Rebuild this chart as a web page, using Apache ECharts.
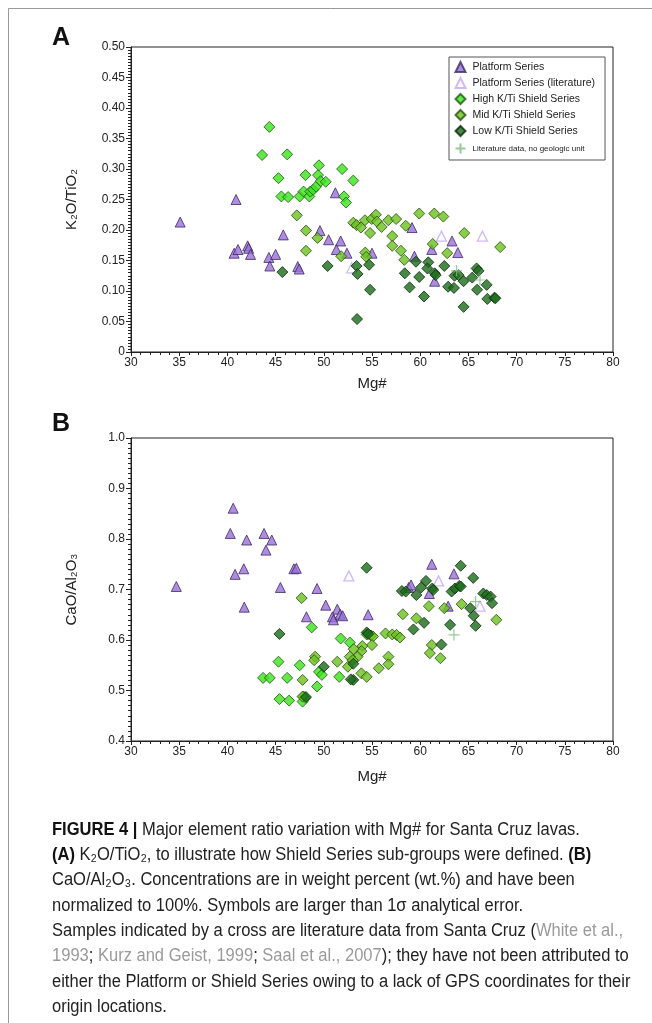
<!DOCTYPE html>
<html>
<head>
<meta charset="utf-8">
<script src="https://cdn.jsdelivr.net/npm/echarts@6/dist/echarts.min.js"></script>
<style>
  html, body { margin: 0; padding: 0; background: #fff; }
  #chart { width: 652px; height: 1023px; }
</style>
</head>
<body>
<div id="chart"></div>
<script>
// Mg# (x) against K2O/TiO2 (panel A) and CaO/Al2O3 (panel B), Santa Cruz lavas

const platformA = [[35.1,0.213],[40.9,0.250],[40.7,0.162],[41.1,0.168],[42.1,0.174],[42.2,0.170],[42.4,0.160],[44.3,0.155],[44.4,0.141],[45.0,0.160],[45.8,0.192],[47.3,0.140],[47.45,0.136],[49.6,0.199],[51.2,0.261],[50.5,0.184],[51.75,0.182],[51.3,0.168],[52.4,0.162],[55.0,0.162],[59.15,0.204],[61.2,0.168],[63.3,0.182],[63.9,0.163],[59.4,0.157],[61.5,0.116]];
const platformLitA = [[52.9,0.138],[62.2,0.190],[66.45,0.190]];
const highKTiA = [[43.6,0.323],[44.35,0.369],[45.3,0.285],[45.6,0.255],[46.2,0.324],[46.3,0.254],[47.5,0.255],[47.9,0.263],[48.1,0.290],[48.5,0.255],[48.6,0.263],[48.9,0.266],[49.2,0.271],[49.4,0.290],[49.5,0.306],[49.67,0.280],[50.2,0.279],[51.9,0.300],[52.1,0.255],[52.3,0.245],[53.06,0.281]];
const midKTiA = [[47.2,0.224],[48.15,0.199],[48.15,0.166],[49.35,0.187],[51.8,0.157],[53.06,0.212],[53.4,0.208],[53.85,0.204],[54.27,0.216],[54.97,0.218],[55.4,0.225],[55.5,0.214],[54.8,0.195],[56.0,0.205],[56.7,0.216],[57.5,0.218],[58.5,0.207],[59.9,0.227],[61.46,0.227],[62.4,0.222],[57.1,0.190],[57.1,0.174],[54.3,0.163],[54.4,0.156],[58.0,0.166],[58.35,0.151],[61.3,0.177],[62.8,0.162],[64.57,0.195],[68.3,0.172]];
const lowKTiA = [[45.7,0.131],[50.4,0.141],[53.4,0.141],[53.5,0.128],[54.7,0.143],[54.8,0.102],[53.45,0.054],[59.56,0.148],[60.84,0.147],[60.74,0.137],[58.4,0.129],[59.9,0.123],[58.9,0.106],[60.4,0.091],[61.5,0.129],[61.6,0.126],[62.5,0.141],[63.56,0.125],[63.98,0.126],[64.5,0.116],[62.9,0.107],[63.5,0.105],[65.4,0.122],[65.85,0.137],[66.05,0.133],[65.9,0.102],[66.9,0.110],[66.96,0.087],[67.7,0.089],[67.8,0.088],[64.5,0.074]];
const literatureA = [[63.77,0.133],[66.2,0.118]];

const platformB = [[34.7,0.706],[40.6,0.861],[40.3,0.811],[40.8,0.730],[41.7,0.741],[41.75,0.665],[42.0,0.798],[43.8,0.811],[44.0,0.778],[44.6,0.798],[45.5,0.704],[46.9,0.741],[47.15,0.742],[48.2,0.646],[49.3,0.702],[50.2,0.669],[51.4,0.661],[50.9,0.646],[51.0,0.640],[51.7,0.651],[51.96,0.648],[54.6,0.650],[58.8,0.704],[59.05,0.709],[60.95,0.692],[61.2,0.750],[62.9,0.667],[63.5,0.731]];
const platformLitB = [[52.6,0.727],[61.9,0.717],[66.2,0.667]];
const highKTiB = [[43.7,0.525],[44.4,0.525],[45.3,0.557],[45.4,0.483],[46.2,0.525],[46.4,0.480],[48.75,0.625],[51.75,0.603],[52.7,0.595],[47.5,0.550],[49.5,0.537],[49.8,0.531],[51.6,0.527],[49.3,0.508],[47.9,0.488],[48.05,0.485],[47.8,0.478]];
const midKTiB = [[47.7,0.683],[58.2,0.651],[59.6,0.643],[60.9,0.667],[62.5,0.663],[64.3,0.671],[67.9,0.640],[61.2,0.590],[61.0,0.574],[62.1,0.564],[54.45,0.611],[54.9,0.609],[55.1,0.607],[56.4,0.613],[57.1,0.611],[57.55,0.610],[57.9,0.605],[55.0,0.590],[54.0,0.588],[53.9,0.578],[53.1,0.582],[53.5,0.567],[52.7,0.567],[53.0,0.560],[51.4,0.557],[52.5,0.547],[53.9,0.534],[54.45,0.527],[55.7,0.544],[56.7,0.567],[56.7,0.552],[49.1,0.567],[49.0,0.560],[47.8,0.521],[47.8,0.488]];
const lowKTiB = [[54.44,0.743],[64.2,0.747],[65.5,0.723],[60.6,0.717],[61.25,0.702],[61.35,0.699],[60.1,0.704],[59.6,0.689],[58.1,0.697],[58.5,0.696],[63.26,0.696],[63.6,0.702],[64.05,0.707],[64.2,0.706],[66.55,0.692],[66.9,0.689],[67.3,0.686],[67.45,0.673],[65.2,0.663],[65.55,0.648],[65.75,0.628],[63.1,0.630],[60.4,0.634],[59.3,0.621],[62.2,0.591],[50.0,0.547],[53.06,0.521],[52.8,0.522],[53.06,0.553],[54.45,0.615],[54.6,0.612],[48.15,0.487],[45.4,0.612]];
const literatureB = [[65.75,0.676],[63.5,0.610]];

const xTicksMin = 30, xTicksMax = 80, xStep = 5;

const FONT = 'Liberation Sans, Arial, Helvetica, sans-serif';
const crossPath = 'path://M0,5L10,5M5,0L5,10';

const styles = {
  'Platform Series': { symbol: 'triangle', size: 10, item: { color: '#9a6fd8', borderColor: '#3b2a63', borderWidth: 1 } },
  'Platform Series (literature)': { symbol: 'triangle', size: 10, item: { color: '#ffffff', borderColor: '#c7a6f2', borderWidth: 1.3 } },
  'High K/Ti Shield Series': { symbol: 'diamond', size: 11, item: { color: '#3be21c', borderColor: '#1d5a12', borderWidth: 1 } },
  'Mid K/Ti Shield Series': { symbol: 'diamond', size: 11, item: { color: '#6cc21e', borderColor: '#2a4d10', borderWidth: 1 } },
  'Low K/Ti Shield Series': { symbol: 'diamond', size: 11, item: { color: '#1c6b1a', borderColor: '#0b2a0a', borderWidth: 1 } },
  'Literature data, no geologic unit': { symbol: crossPath, size: 11, item: { color: 'none', borderColor: '#7dbb7d', borderWidth: 1.2 } }
};

const panelA = [
  ['Platform Series', platformA],
  ['Platform Series (literature)', platformLitA],
  ['High K/Ti Shield Series', highKTiA],
  ['Mid K/Ti Shield Series', midKTiA],
  ['Low K/Ti Shield Series', lowKTiA],
  ['Literature data, no geologic unit', literatureA]
];
const panelB = [
  ['Platform Series', platformB],
  ['Platform Series (literature)', platformLitB],
  ['High K/Ti Shield Series', highKTiB],
  ['Mid K/Ti Shield Series', midKTiB],
  ['Low K/Ti Shield Series', lowKTiB],
  ['Literature data, no geologic unit', literatureB]
];

function scatter(name, data, idx) {
  const s = styles[name];
  return {
    name: name, type: 'scatter', xAxisIndex: idx, yAxisIndex: idx,
    symbol: s.symbol, symbolSize: s.size, itemStyle: s.item,
    data: data, animation: false, emphasis: { disabled: true }
  };
}

function xAxisOf(gridIndex, gap) {
  return {
    gridIndex: gridIndex, type: 'value', min: xTicksMin, max: xTicksMax, interval: xStep,
    name: 'Mg#', nameLocation: 'middle', nameGap: gap,
    nameTextStyle: { fontFamily: FONT, fontSize: 15, color: '#222' },
    axisLine: { show: true, onZero: false, lineStyle: { color: '#222', width: 1 } },
    axisTick: { show: true, inside: false, length: 4, lineStyle: { color: '#222' } },
    minorTick: { show: true, splitNumber: 5, length: 3, lineStyle: { color: '#222' } },
    axisLabel: { fontFamily: FONT, fontSize: 12, color: '#222', margin: 5 },
    splitLine: { show: false }
  };
}

const option = {
  backgroundColor: '#ffffff',
  animation: false,
  grid: [
    { left: 131, top: 47, width: 482, height: 305, show: true, borderColor: '#222', borderWidth: 1, backgroundColor: 'transparent' },
    { left: 131, top: 438, width: 482, height: 303, show: true, borderColor: '#222', borderWidth: 1, backgroundColor: 'transparent' }
  ],
  xAxis: [xAxisOf(0, 24), xAxisOf(1, 28)],
  yAxis: [
    {
      gridIndex: 0, type: 'value', min: 0, max: 0.5, interval: 0.05,
      name: 'K₂O/TiO₂', nameLocation: 'middle', nameGap: 52, nameRotate: 90,
      nameTextStyle: { fontFamily: FONT, fontSize: 15, color: '#222' },
      axisLine: { show: true, onZero: false, lineStyle: { color: '#222' } },
      axisTick: { show: true, length: 5, lineStyle: { color: '#222' } },
      minorTick: { show: true, splitNumber: 10, length: 3, lineStyle: { color: '#222' } },
      axisLabel: { fontFamily: FONT, fontSize: 12, color: '#222', margin: 6,
        formatter: v => (Math.abs(v) < 1e-9 ? '0' : v.toFixed(2)) },
      splitLine: { show: false }
    },
    {
      gridIndex: 1, type: 'value', min: 0.4, max: 1.0, interval: 0.1,
      name: 'CaO/Al₂O₃', nameLocation: 'middle', nameGap: 52, nameRotate: 90,
      nameTextStyle: { fontFamily: FONT, fontSize: 15, color: '#222' },
      axisLine: { show: true, onZero: false, lineStyle: { color: '#222' } },
      axisTick: { show: true, length: 5, lineStyle: { color: '#222' } },
      minorTick: { show: true, splitNumber: 10, length: 3, lineStyle: { color: '#222' } },
      axisLabel: { fontFamily: FONT, fontSize: 12, color: '#222', margin: 6,
        formatter: v => v.toFixed(1) },
      splitLine: { show: false }
    }
  ],
  legend: {
    left: 449, top: 57, orient: 'vertical',
    backgroundColor: '#fff', borderColor: '#555', borderWidth: 1,
    padding: [4, 10, 4, 4], itemGap: 4, itemWidth: 10, itemHeight: 10,
    selectedMode: false,
    textStyle: { fontFamily: FONT, fontSize: 10.5, color: '#222', padding: [0, 0, 0, 2] },
    data: [
      { name: 'Platform Series' },
      { name: 'Platform Series (literature)' },
      { name: 'High K/Ti Shield Series' },
      { name: 'Mid K/Ti Shield Series' },
      { name: 'Low K/Ti Shield Series' },
      { name: 'Literature data, no geologic unit', textStyle: { fontSize: 8 } }
    ]
  },
  graphic: [],
  series: panelA.map(p => scatter(p[0], p[1], 0)).concat(panelB.map(p => scatter(p[0], p[1], 1)))
};

// figure frame and panel letters
option.graphic.push(
  { type: 'line', shape: { x1: 8.5, y1: 8.5, x2: 652, y2: 8.5 }, style: { stroke: '#999', lineWidth: 1 } },
  { type: 'line', shape: { x1: 8.5, y1: 8.5, x2: 8.5, y2: 1023 }, style: { stroke: '#999', lineWidth: 1 } },
  { type: 'text', x: 52, y: 38, style: { text: 'A', font: 'bold 25px ' + FONT, fill: '#111', verticalAlign: 'middle' } },
  { type: 'text', x: 52, y: 424, style: { text: 'B', font: 'bold 25px ' + FONT, fill: '#111', verticalAlign: 'middle' } }
);

// caption
const captionLines = [
  '{b|FIGURE 4 |} Major element ratio variation with Mg# for Santa Cruz lavas.',
  '{b|(A)} K₂O/TiO₂, to illustrate how Shield Series sub-groups were defined. {b|(B)}',
  'CaO/Al₂O₃. Concentrations are in weight percent (wt.%) and have been',
  'normalized to 100%. Symbols are larger than 1σ analytical error.',
  'Samples indicated by a cross are literature data from Santa Cruz ({g|White et al.,}',
  '{g|1993}; {g|Kurz and Geist, 1999}; {g|Saal et al., 2007}); they have not been attributed to',
  'either the Platform or Shield Series owing to a lack of GPS coordinates for their',
  'origin locations.'
];
const capSize = 17.5;
const capFont = capSize + 'px ' + FONT;
captionLines.forEach((t, i) => {
  option.graphic.push({
    type: 'text', x: 52, y: 830 + i * 25.3, scaleX: 0.944,
    style: {
      text: t, font: capFont, fill: '#222', verticalAlign: 'middle',
      rich: {
        b: { font: 'bold ' + capSize + 'px ' + FONT, fill: '#111' },
        g: { font: capFont, fill: '#9a9a9a' }
      }
    }
  });
});

const chart = echarts.init(document.getElementById('chart'), null, { renderer: 'canvas' });
chart.setOption(option);
</script>
</body>
</html>
